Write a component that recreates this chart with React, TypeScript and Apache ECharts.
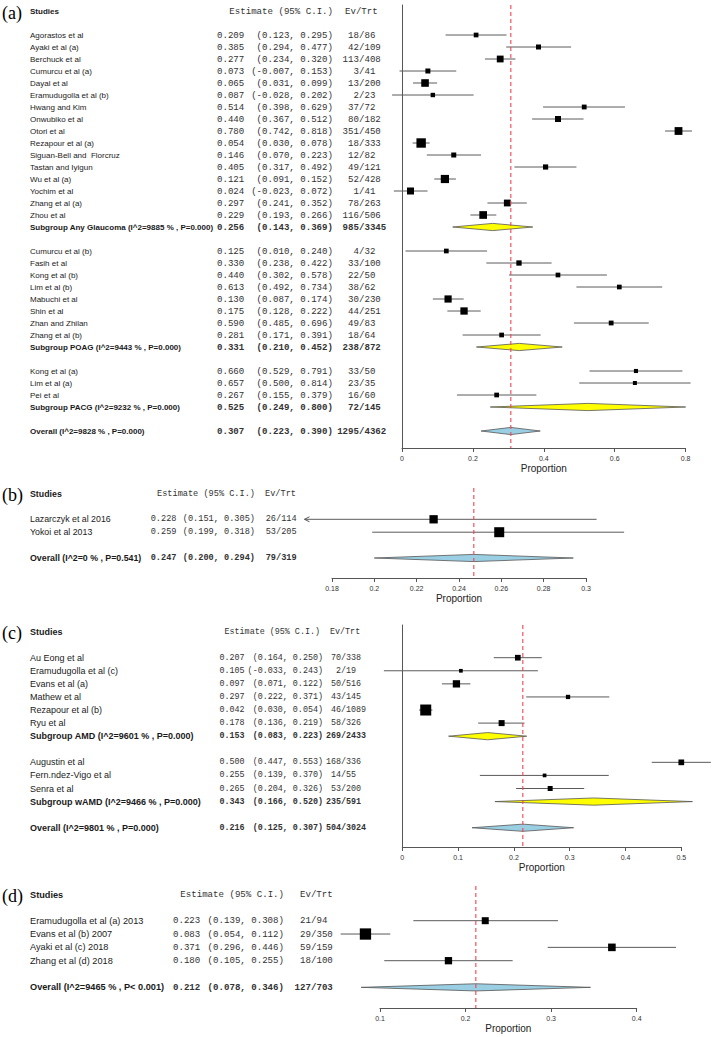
import React, { useEffect, useRef } from "react";
import * as echarts from "echarts";

// ---------------- Panel (a): glaucoma ----------------
const namesA = [
  "Agorastos et al", "Ayaki et al (a)", "Berchuck et al", "Cumurcu et al (a)", "Dayal et al",
  "Eramudugolla et al (b)", "Hwang and Kim", "Onwubiko et al", "Otori et al", "Rezapour et al (a)",
  "Siguan-Bell and  Florcruz", "Tastan and Iyigun", "Wu et al (a)", "Yochim et al", "Zhang et al (a)",
  "Zhou et al", "Subgroup Any Glaucoma (I^2=9885 % , P=0.000)",
  "Cumurcu et al (b)", "Fasih et al", "Kong et al (b)", "Lim et al (b)", "Mabuchi et al",
  "Shin et al", "Zhan and Zhilan", "Zhang et al (b)", "Subgroup POAG (I^2=9443 % , P=0.000)",
  "Kong et al (a)", "Lim et al (a)", "Pei et al", "Subgroup PACG (I^2=9232 % , P=0.000)",
  "Overall (I^2=9828 % , P=0.000)",
];
const rowsA = [0, 1, 2, 3, 4, 5, 6, 7, 8, 9, 10, 11, 12, 13, 14, 15, 16, 18, 19, 20, 21, 22, 23, 24, 25, 26, 28, 29, 30, 31, 33];
const estA = [0.209, 0.385, 0.277, 0.073, 0.065, 0.087, 0.514, 0.44, 0.78, 0.054, 0.146, 0.405, 0.121, 0.024, 0.297, 0.229, 0.256,
  0.125, 0.33, 0.44, 0.613, 0.13, 0.175, 0.59, 0.281, 0.331, 0.66, 0.657, 0.267, 0.525, 0.307];
const loA = [0.123, 0.294, 0.234, -0.007, 0.031, -0.028, 0.398, 0.367, 0.742, 0.03, 0.07, 0.317, 0.091, -0.023, 0.241, 0.193, 0.143,
  0.01, 0.238, 0.302, 0.492, 0.087, 0.128, 0.485, 0.171, 0.21, 0.529, 0.5, 0.155, 0.249, 0.223];
const hiA = [0.295, 0.477, 0.32, 0.153, 0.099, 0.202, 0.629, 0.512, 0.818, 0.078, 0.223, 0.492, 0.152, 0.072, 0.352, 0.266, 0.369,
  0.24, 0.422, 0.578, 0.734, 0.174, 0.222, 0.696, 0.391, 0.452, 0.791, 0.814, 0.379, 0.8, 0.39];
const evA = [18, 42, 113, 3, 13, 2, 37, 80, 351, 18, 12, 49, 52, 1, 78, 116, 985, 4, 33, 22, 38, 30, 44, 49, 18, 238, 33, 23, 16, 72, 1295];
const trtA = [86, 109, 408, 41, 200, 23, 72, 182, 450, 333, 82, 121, 428, 41, 263, 506, 3345, 32, 100, 50, 62, 230, 251, 83, 64, 872, 50, 35, 60, 145, 4362];
const weightA = [4.7, 5, 6.8, 5, 7.6, 4.4, 4.8, 6, 7.8, 9.4, 5, 5.2, 8.2, 7, 6.8, 7.7, 0,
  4.7, 5.3, 4.7, 4.7, 7.2, 7.3, 4.8, 4.7, 0, 4.1, 4, 4.7, 0, 0];
const kindA = ["s", "s", "s", "s", "s", "s", "s", "s", "s", "s", "s", "s", "s", "s", "s", "s", "g",
  "s", "s", "s", "s", "s", "s", "s", "s", "g", "s", "s", "s", "g", "o"];
const ticksA = [0, 0.2, 0.4, 0.6, 0.8];

// ---------------- Panel (b) ----------------
const namesB = ["Lazarczyk et al 2016", "Yokoi et al 2013", "Overall (I^2=0 % , P=0.541)"];
const rowsB = [0, 1, 3];
const estB = [0.228, 0.259, 0.247];
const loB = [0.151, 0.199, 0.2];
const hiB = [0.305, 0.318, 0.294];
const evB = [26, 53, 79];
const trtB = [114, 205, 319];
const weightB = [8.3, 10, 0];
const kindB = ["s", "s", "o"];
const ticksB = [0.18, 0.2, 0.22, 0.24, 0.26, 0.28, 0.3];

// ---------------- Panel (c): AMD ----------------
const namesC = [
  "Au Eong et al", "Eramudugolla et al (c)", "Evans et al (a)", "Mathew et al", "Rezapour et al (b)", "Ryu et al",
  "Subgroup AMD (I^2=9601 % , P=0.000)", "Augustin et al", "Fern.ndez-Vigo et al", "Senra et al",
  "Subgroup wAMD (I^2=9466 % , P=0.000)", "Overall (I^2=9801 % , P=0.000)",
];
const rowsC = [0, 1, 2, 3, 4, 5, 6, 8, 9, 10, 11, 13];
const estC = [0.207, 0.105, 0.097, 0.297, 0.042, 0.178, 0.153, 0.5, 0.255, 0.265, 0.343, 0.216];
const loC = [0.164, -0.033, 0.071, 0.222, 0.03, 0.136, 0.083, 0.447, 0.139, 0.204, 0.166, 0.125];
const hiC = [0.25, 0.243, 0.122, 0.371, 0.054, 0.219, 0.223, 0.553, 0.37, 0.326, 0.52, 0.307];
const evC = [70, 2, 50, 43, 46, 58, 269, 168, 14, 53, 235, 504];
const trtC = [338, 19, 516, 145, 1089, 326, 2433, 336, 55, 200, 591, 3024];
const weightC = [5.7, 3.7, 7.3, 4.3, 11, 6, 0, 5.7, 3.7, 5, 0, 0];
const kindC = ["s", "s", "s", "s", "s", "s", "g", "s", "s", "s", "g", "o"];
const ticksC = [0, 0.1, 0.2, 0.3, 0.4, 0.5];

// ---------------- Panel (d) ----------------
const namesD = [
  "Eramudugolla et al (a) 2013", "Evans et al (b) 2007", "Ayaki et al (c) 2018", "Zhang et al (d) 2018",
  "Overall (I^2=9465 % , P< 0.001)",
];
const rowsD = [0, 1, 2, 3, 5];
const estD = [0.223, 0.083, 0.371, 0.18, 0.212];
const loD = [0.139, 0.054, 0.296, 0.105, 0.078];
const hiD = [0.308, 0.112, 0.446, 0.255, 0.346];
const evD = [21, 29, 59, 18, 127];
const trtD = [94, 350, 159, 100, 703];
const weightD = [7, 11.3, 7.6, 7.3, 0];
const kindD = ["s", "s", "s", "s", "o"];
const ticksD = [0.1, 0.2, 0.3, 0.4];

type PanelData = {
  names: string[]; rows: number[]; est: number[]; lo: number[]; hi: number[];
  ev: number[]; trt: number[]; weight: number[]; kind: string[]; ticks: number[];
};

const panels: PanelData[] = [
  { names: namesA, rows: rowsA, est: estA, lo: loA, hi: hiA, ev: evA, trt: trtA, weight: weightA, kind: kindA, ticks: ticksA },
  { names: namesB, rows: rowsB, est: estB, lo: loB, hi: hiB, ev: evB, trt: trtB, weight: weightB, kind: kindB, ticks: ticksB },
  { names: namesC, rows: rowsC, est: estC, lo: loC, hi: hiC, ev: evC, trt: trtC, weight: weightC, kind: kindC, ticks: ticksC },
  { names: namesD, rows: rowsD, est: estD, lo: loD, hi: hiD, ev: evD, trt: trtD, weight: weightD, kind: kindD, ticks: ticksD },
];

// ---------------- layout (pixels) ----------------
const layouts = [
  { tag: "(a)", row0Y: 35, step: 12, top: 5, axisY: 448, left: 402, right: 685.6, nameX: 30, estX: 217, ciX: 333, slashX: 359, hEstX: 333, hEvX: 345, font: 8.0, mono: 9.1, yLine: true, clipLo: null as number | null },
  { tag: "(b)", row0Y: 519.3, step: 12.9, top: 488, axisY: 578, left: 332, right: 586, nameX: 30, estX: 150.7, ciX: 255, slashX: 276, hEstX: 255, hEvX: 265, font: 8.8, mono: 8.6, yLine: false, clipLo: 0.167 as number | null },
  { tag: "(c)", row0Y: 657.7, step: 13.08, top: 625, axisY: 847, left: 402.3, right: 681.3, nameX: 30, estX: 219.5, ciX: 323, slashX: 341, hEstX: 320, hEvX: 330, font: 9, mono: 8.4, yLine: true, clipLo: null as number | null },
  { tag: "(d)", row0Y: 920.7, step: 13.33, top: 886, axisY: 1008, left: 380, right: 636.7, nameX: 30, estX: 173, ciX: 284, slashX: 311, hEstX: 284, hEvX: 300, font: 9.2, mono: 9.1, yLine: false, clipLo: null as number | null },
];

const HEADER_ROW = -1.95;
const SANS = '"Liberation Sans", Arial, Helvetica, sans-serif';
const MONO = '"Liberation Mono", "Courier New", monospace';
const SERIF = '"Liberation Serif", "Times New Roman", serif';

function txt(x: number, y: number, text: string, font: string, fill: string, align: string) {
  return { type: "text", x, y, style: { text, font, fill, textAlign: align, textVerticalAlign: "middle" } };
}

function makeRenderItem(p: PanelData, L: typeof layouts[number], yMin: number, yMax: number) {
  return (params: any, api: any) => {
    const j = params.dataIndex;
    const row = p.rows[j];
    const c = api.coord([p.est[j], row]);
    const xe = c[0];
    const y = c[1];
    const xl = api.coord([p.lo[j], row])[0];
    const xh = api.coord([p.hi[j], row])[0];
    const kind = p.kind[j];
    const bold = kind !== "s";
    const sansFont = `${bold ? "bold " : ""}${L.font}px ${SANS}`;
    const monoSize = L.mono;
    const monoFont = `${bold ? "bold " : ""}${monoSize}px ${MONO}`;
    const children: any[] = [];

    if (j === 0) {
      const hy = api.coord([p.ticks[0], HEADER_ROW])[1];
      children.push(txt(2, hy + 1, L.tag, `18px ${SERIF}`, "#000", "left"));
      children.push(txt(L.nameX, hy, "Studies", `bold ${L.font}px ${SANS}`, "#1a1a1a", "left"));
      children.push(txt(L.hEstX, hy, "Estimate (95% C.I.)", `${monoSize}px ${MONO}`, "#333", "right"));
      children.push(txt(L.hEvX, hy, "Ev/Trt", `${monoSize}px ${MONO}`, "#333", "left"));
    }

    children.push(txt(L.nameX, y, p.names[j], sansFont, "#1a1a1a", "left"));
    children.push(txt(L.estX, y, p.est[j].toFixed(3), monoFont, "#333", "left"));
    children.push(txt(L.ciX, y, `(${p.lo[j].toFixed(3)}, ${p.hi[j].toFixed(3)})`, monoFont, "#333", "right"));
    const evs = String(p.ev[j]);
    children.push(txt(L.slashX - evs.length * monoSize * 0.6, y, `${evs}/${p.trt[j]}`, monoFont, "#333", "left"));

    if (kind === "s") {
      let x1 = xl;
      if (L.clipLo !== null && p.lo[j] < L.clipLo) {
        x1 = api.coord([L.clipLo, row])[0];
        children.push({
          type: "polyline",
          shape: { points: [[x1 + 5, y - 2.5], [x1, y], [x1 + 5, y + 2.5]] },
          style: { stroke: "#555", lineWidth: 1, fill: null },
        });
      }
      children.push({ type: "line", shape: { x1, y1: y, x2: xh, y2: y }, style: { stroke: "#5a5a5a", lineWidth: 1 } });
      const s = p.weight[j];
      children.push({ type: "rect", shape: { x: xe - s / 2, y: y - s / 2, width: s, height: s }, style: { fill: "#000" } });
    } else {
      const h = 7.2;
      children.push({
        type: "polygon",
        shape: { points: [[xl, y], [xe, y - h / 2], [xh, y], [xe, y + h / 2]] },
        style: { fill: kind === "g" ? "#FFFF00" : "#9ACFE3", stroke: "#555", lineWidth: 0.8 },
      });
    }

    if (kind === "o") {
      const top = api.coord([p.est[j], yMin]);
      const bot = api.coord([p.est[j], yMax]);
      children.push({
        type: "line",
        shape: { x1: top[0], y1: top[1], x2: bot[0], y2: bot[1] },
        style: { stroke: "#F2444F", lineWidth: 1.1, lineDash: [4, 3] },
      });
    }
    return { type: "group", children };
  };
}

export default function App() {
  const ref = useRef<HTMLDivElement>(null);
  useEffect(() => {
    if (!ref.current) return;
    const chart = echarts.init(ref.current, undefined, { renderer: "svg" });
    const grid: any[] = [];
    const xAxis: any[] = [];
    const yAxis: any[] = [];
    const series: any[] = [];
    panels.forEach((p, i) => {
      const L = layouts[i];
      const yMin = (L.top - L.row0Y) / L.step;
      const yMax = (L.axisY - L.row0Y) / L.step;
      const t = p.ticks;
      grid.push({ left: L.left, top: L.top, width: L.right - L.left, height: L.axisY - L.top, containLabel: false, outerBoundsMode: "none" });
      xAxis.push({
        gridIndex: i, type: "value", min: t[0], max: t[t.length - 1], interval: +(t[1] - t[0]).toFixed(4),
        axisLine: { show: true, onZero: false, lineStyle: { color: "#555", width: 1 } },
        axisTick: { show: true, length: 4, lineStyle: { color: "#555", width: 1 } },
        axisLabel: { fontSize: 7, color: "#333", margin: 7, fontFamily: SANS, formatter: (v: number) => String(parseFloat(v.toFixed(3))) },
        splitLine: { show: false },
        name: "Proportion", nameLocation: "middle", nameGap: 15,
        nameTextStyle: { fontSize: 10, color: "#222", fontFamily: SANS },
      });
      yAxis.push({
        gridIndex: i, type: "value", inverse: true, min: yMin, max: yMax,
        axisLine: { show: L.yLine, onZero: false, lineStyle: { color: "#555", width: 1 } },
        axisTick: { show: false }, axisLabel: { show: false }, splitLine: { show: false },
      });
      series.push({
        type: "custom", xAxisIndex: i, yAxisIndex: i, clip: false, silent: true,
        data: p.rows.map((r, j) => [p.est[j], r, p.lo[j], p.hi[j]]),
        encode: { x: [0, 2, 3], y: 1 },
        renderItem: makeRenderItem(p, L, yMin, yMax),
      });
    });
    chart.setOption({ animation: false, backgroundColor: "#fff", grid, xAxis, yAxis, series });
    return () => chart.dispose();
  }, []);
  return <div ref={ref} style={{ position: "absolute", left: 0, top: 0, width: 717, height: 1037 }} />;
}
